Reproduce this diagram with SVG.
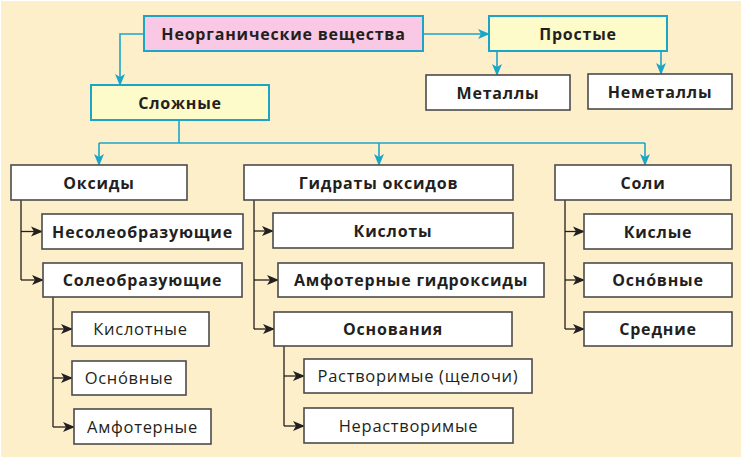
<svg xmlns="http://www.w3.org/2000/svg" width="742" height="459" viewBox="0 0 742 459">
<defs>
<style>
.bg{fill:#fdefc9}
.bx{fill:#fff;stroke:#4d4b4b;stroke-width:1.6}
.root{fill:#f9c8e4;stroke:#1ba6c8;stroke-width:2}
.yel{fill:#fefbca;stroke:#1ba6c8;stroke-width:2}
.t{font-family:"Open Sans","Noto Sans","DejaVu Sans",sans-serif;font-size:16px;fill:#231f20;text-anchor:middle;letter-spacing:0.8px}
.b{font-weight:700}
.r{font-weight:400;font-size:16.5px;letter-spacing:0.7px}
.cy{fill:none;stroke:#1ba6c8;stroke-width:1.6}
.bk{fill:none;stroke:#231f20;stroke-width:1.3}
.ca{marker-end:url(#ac)}
.ka{marker-end:url(#ak)}
</style>
<marker id="ac" markerUnits="userSpaceOnUse" markerWidth="12" markerHeight="12" viewBox="0 0 12 10" refX="11" refY="5" orient="auto">
<path d="M0,0 L12,5 L0,10 L3,5 z" fill="#1ba6c8"/>
</marker>
<marker id="ak" markerUnits="userSpaceOnUse" markerWidth="12" markerHeight="12" viewBox="0 0 12 10" refX="11" refY="5" orient="auto">
<path d="M0,0 L12,5 L0,10 L3,5 z" fill="#231f20"/>
</marker>
</defs>
<rect x="0" y="0" width="742" height="459" fill="#ffffff"/>
<rect class="bg" x="1" y="1" width="740" height="456"/>

<g id="connectors">
<path class="cy ca" d="M144,34 H120 V85"/>
<path class="cy ca" d="M423,34 H489"/>
<path class="cy ca" d="M497,51 V75"/>
<path class="cy ca" d="M661,51 V74"/>
<path class="cy" d="M179,120 V143 M99,143 H645"/>
<path class="cy ca" d="M99,143 V165"/>
<path class="cy ca" d="M379,143 V165"/>
<path class="cy ca" d="M645,143 V165"/>

<path class="bk" d="M21,200 V280"/>
<path class="bk ka" d="M21,231.5 H42"/>
<path class="bk ka" d="M21,280 H43"/>
<path class="bk" d="M53,297 V427"/>
<path class="bk ka" d="M53,329 H72"/>
<path class="bk ka" d="M53,378 H72"/>
<path class="bk ka" d="M53,427 H74"/>

<path class="bk" d="M254,200 V329"/>
<path class="bk ka" d="M254,231 H273"/>
<path class="bk ka" d="M254,280 H278"/>
<path class="bk ka" d="M254,329 H274"/>
<path class="bk" d="M284,346 V426"/>
<path class="bk ka" d="M284,376 H304"/>
<path class="bk ka" d="M284,426 H304"/>

<path class="bk" d="M565,200 V329"/>
<path class="bk ka" d="M565,231.5 H584"/>
<path class="bk ka" d="M565,280 H584"/>
<path class="bk ka" d="M565,329 H584"/>
</g>

<g id="n-root"><rect class="root" x="144" y="16" width="279" height="35"/><text class="t b" x="283.5" y="39.5">Неорганические вещества</text></g>
<g id="n-slozhnye"><rect class="yel" x="91" y="85" width="178" height="35"/><text class="t b" x="180" y="108.5">Сложные</text></g>
<g id="n-prostye"><rect class="yel" x="489" y="16" width="178" height="35"/><text class="t b" x="578" y="39.5">Простые</text></g>
<g id="n-metally"><rect class="bx" x="426" y="75" width="144" height="35"/><text class="t b" x="498" y="98.5">Металлы</text></g>
<g id="n-nemetally"><rect class="bx" x="588" y="74" width="144" height="35"/><text class="t b" x="660" y="97.5">Неметаллы</text></g>

<g id="n-oksidy"><rect class="bx" x="11" y="165" width="176" height="35"/><text class="t b" x="99" y="188.5">Оксиды</text></g>
<g id="n-gidraty"><rect class="bx" x="244" y="165" width="269" height="35"/><text class="t b" x="378.5" y="188.5">Гидраты оксидов</text></g>
<g id="n-soli"><rect class="bx" x="555" y="165" width="176" height="35"/><text class="t b" x="643" y="188.5">Соли</text></g>

<g id="n-nesoleobr"><rect class="bx" x="42" y="214" width="201" height="35"/><text class="t b" x="142.5" y="237.5">Несолеобразующие</text></g>
<g id="n-soleobr"><rect class="bx" x="43" y="263" width="199" height="34"/><text class="t b" x="142.5" y="286">Солеобразующие</text></g>
<g id="n-kislotnye"><rect class="bx" x="72" y="312" width="137" height="34"/><text class="t r" x="140.5" y="335">Кислотные</text></g>
<g id="n-osnovnye1"><rect class="bx" x="72" y="361" width="114" height="34"/><text class="t r" x="129" y="384">Осно́вные</text></g>
<g id="n-amfoternye"><rect class="bx" x="74" y="409" width="137" height="35"/><text class="t r" x="142.5" y="432.5">Амфотерные</text></g>

<g id="n-kisloty"><rect class="bx" x="273" y="213" width="240" height="35"/><text class="t b" x="393" y="236.5">Кислоты</text></g>
<g id="n-amfgidr"><rect class="bx" x="278" y="263" width="266" height="34"/><text class="t b" x="411" y="286">Амфотерные гидроксиды</text></g>
<g id="n-osnovaniya"><rect class="bx" x="274" y="312" width="238" height="34"/><text class="t b" x="393" y="335">Основания</text></g>
<g id="n-rastvorimye"><rect class="bx" x="304" y="359" width="228" height="34"/><text class="t r" x="418" y="382">Растворимые (щелочи)</text></g>
<g id="n-nerastvorimye"><rect class="bx" x="304" y="408" width="209" height="35"/><text class="t r" x="408.5" y="431.5">Нерастворимые</text></g>

<g id="n-kislye"><rect class="bx" x="584" y="214" width="148" height="35"/><text class="t b" x="658" y="237.5">Кислые</text></g>
<g id="n-osnovnye2"><rect class="bx" x="584" y="263" width="148" height="34"/><text class="t b" x="658" y="286">Осно́вные</text></g>
<g id="n-srednie"><rect class="bx" x="584" y="312" width="148" height="34"/><text class="t b" x="658" y="335">Средние</text></g>
</svg>
